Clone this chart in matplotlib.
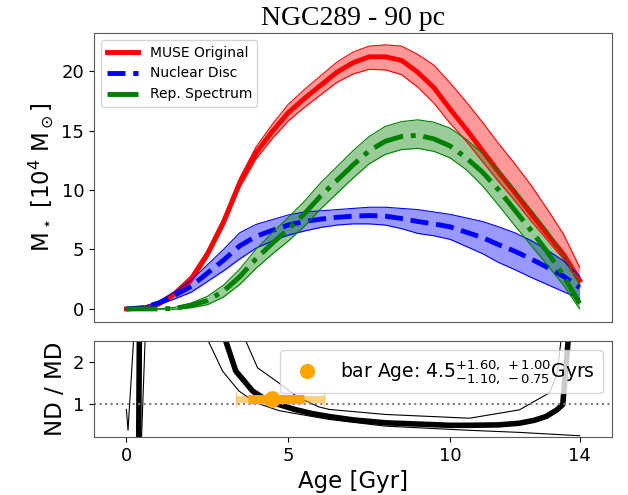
import numpy as np
import matplotlib
matplotlib.use("Agg")
import matplotlib.pyplot as plt

# ages for the mass curves [Gyr]
age = np.arange(0, 14.01, 0.5)

# stellar mass [1e4 Msun]; band = value - lo .. value + hi
muse = [0, 0.05, 0.4, 1.3, 2.5, 4.6, 7.3, 10.6, 13.1, 14.9, 16.5, 17.7, 18.8, 19.9, 20.7,
        21.2, 21.2, 20.9, 19.9, 18.6, 16.8, 15.1, 13.3, 11.5, 9.8, 8.0, 6.3, 4.6, 2.4]
muse_lo = [0, 0.05, 0.1, 0.2, 0.3, 0.3, 0.35, 0.4, 0.5, 0.6, 0.7, 0.75, 0.8, 0.85, 0.95,
           1.05, 1.1, 1.2, 1.25, 1.3, 1.2, 1.0, 0.9, 0.8, 0.7, 0.6, 0.5, 0.4, 0.3]
muse_hi = [0, 0.05, 0.1, 0.2, 0.3, 0.3, 0.35, 0.4, 0.5, 0.6, 0.7, 0.75, 0.8, 0.85, 0.9,
           0.9, 1.0, 1.2, 1.5, 1.9, 2.2, 2.3, 2.4, 2.4, 2.4, 2.4, 2.1, 1.7, 1.1]

nd = [0, 0.1, 0.5, 1.15, 1.9, 3.0, 4.1, 5.3, 6.1, 6.6, 7.05, 7.35, 7.55, 7.7, 7.8,
      7.85, 7.8, 7.6, 7.35, 7.15, 6.9, 6.45, 6.0, 5.4, 4.85, 4.2, 3.5, 2.75, 1.8]
nd_err = [0, 0.05, 0.15, 0.3, 0.5, 0.7, 0.9, 1.1, 1.0, 0.9, 0.85, 0.8, 0.7, 0.65, 0.65,
          0.7, 0.75, 0.85, 1.0, 1.0, 1.05, 1.2, 1.35, 1.5, 1.55, 1.55, 1.45, 1.3, 0.95]

rep = [0, 0, 0, 0.05, 0.3, 0.7, 1.5, 2.7, 4.2, 5.5, 6.7, 8.0, 9.5, 10.8, 12.1,
       13.3, 14.1, 14.5, 14.6, 14.3, 13.7, 12.7, 11.5, 10.0, 8.3, 6.6, 4.8, 2.8, 0.45]
rep_lo = [0, 0, 0.02, 0.08, 0.2, 0.35, 0.5, 0.65, 0.8, 0.9, 1.0, 1.05, 1.1, 1.1, 1.1,
          1.1, 1.1, 1.1, 1.1, 1.05, 1.0, 1.0, 1.15, 1.3, 1.3, 1.25, 1.1, 0.8, 0.45]
rep_hi = [0, 0, 0.02, 0.08, 0.2, 0.35, 0.5, 0.65, 0.8, 0.9, 1.0, 1.05, 1.1, 1.15, 1.2,
          1.2, 1.25, 1.25, 1.3, 1.4, 1.5, 1.55, 1.6, 1.65, 1.7, 1.75, 1.8, 1.75, 1.65]

# ND / MD ratio (thick) and its two bounds (thin)
ratio_age = [0, 0.38, 0.42, 2.0, 2.8, 3.07, 3.38, 3.9, 4.3, 4.7, 5.2, 5.75, 6.27, 7.0, 8.0,
             9.0, 10.0, 10.6, 11.5, 12.14, 12.6, 12.96, 13.3, 13.48, 13.7]
ratio = [0.05, 0.05, 5.0, 5.0, 3.0, 2.5, 1.78, 1.3, 1.1, 0.98, 0.86, 0.76, 0.69, 0.61, 0.54,
         0.51, 0.48, 0.48, 0.49, 0.53, 0.6, 0.69, 0.85, 0.98, 3.0]

low_age = [0, 0.05, 0.3, 2.0, 2.53, 2.97, 3.48, 4.0, 4.72, 5.75, 6.27, 8.0, 10.6, 12.14, 14.0]
ratio_low = [0.86, 0.36, 3.5, 4.0, 2.5, 1.78, 1.3, 1.02, 0.83, 0.69, 0.62, 0.46, 0.36, 0.31, 0.23]

up_age = [0.46, 0.6, 3.0, 3.69, 4.05, 4.7, 5.3, 5.95, 6.27, 8.0, 10.6, 12.14, 13.07, 13.3, 13.5]
ratio_up = [0.0, 3.0, 4.0, 2.5, 1.86, 1.5, 1.15, 0.92, 0.86, 0.74, 0.65, 0.85, 1.26, 1.7, 3.0]

bar_age = 4.5
bar_y = 1.12
err_outer = (1.10, 1.60)
err_inner = (0.75, 1.00)

fig = plt.figure(figsize=(6.28, 4.95), dpi=100)
ax1 = fig.add_axes([0.1497, 0.3495, 0.8248, 0.5838])
ax2 = fig.add_axes([0.1497, 0.1172, 0.8248, 0.1939])

series = [(muse, muse_lo, muse_hi, 'red', '-', 'MUSE Original'),
          (nd, nd_err, nd_err, 'blue', '--', 'Nuclear Disc'),
          (rep, rep_lo, rep_hi, 'green', '-.', 'Rep. Spectrum')]
for val, lo, hi, col, ls, lab in series:
    val = np.array(val)
    lower = val - np.array(lo)
    upper = val + np.array(hi)
    ax1.fill_between(age, lower, upper, color=col, alpha=0.4, lw=0)
    ax1.plot(age, lower, color=col, lw=0.8)
    ax1.plot(age, upper, color=col, lw=0.8)
    ax1.plot(age, val, color=col, ls=ls, lw=3.5, label=lab)

ax1.set_xlim(-1, 15)
ax1.set_ylim(-1.1, 23.2)
ax1.set_yticks([0, 5, 10, 15, 20])
ax1.tick_params(axis='x', bottom=False, labelbottom=False)
ax1.tick_params(axis='y', labelsize=13)
ax1.set_ylabel(r'M$_\star$ [10$^4$ M$_\odot$]', fontsize=16.5)
ax1.set_title('NGC289 - 90 pc', fontsize=20, family='Liberation Serif')
ax1.legend(loc='upper left', fontsize=10, handlelength=2.3)

ax2.plot(ratio_age, ratio, color='black', lw=4)
ax2.plot(low_age, ratio_low, color='black', lw=0.8)
ax2.plot(up_age, ratio_up, color='black', lw=0.8)
ax2.axhline(1, color='gray', ls=':', lw=1.5)
ax2.errorbar(bar_age, bar_y, xerr=[[err_outer[0]], [err_outer[1]]], fmt='none',
             ecolor='orange', alpha=0.5, elinewidth=5, capsize=6, capthick=1)
ax2.errorbar(bar_age, bar_y, xerr=[[err_inner[0]], [err_inner[1]]], fmt='none',
             ecolor='orange', elinewidth=6.5)
ax2.plot(bar_age, bar_y, 'o', color='orange', ms=11,
         label=r'bar Age: $4.5^{+1.60,\,+1.00}_{-1.10,\,-0.75}$Gyrs')
ax2.set_xlim(-1, 15)
ax2.set_ylim(0.2, 2.5)
ax2.set_xticks([0, 5, 10, 14])
ax2.set_yticks([1, 2])
ax2.tick_params(labelsize=13)
ax2.set_xlabel('Age [Gyr]', fontsize=16.5)
ax2.set_ylabel('ND / MD', fontsize=16.5)
ax2.legend(loc='upper right', fontsize=13.5, markerscale=0.9)

for ax in (ax1, ax2):
    for sp in ax.spines.values():
        sp.set_color('0.35')

fig.savefig('out.png', dpi=100)
